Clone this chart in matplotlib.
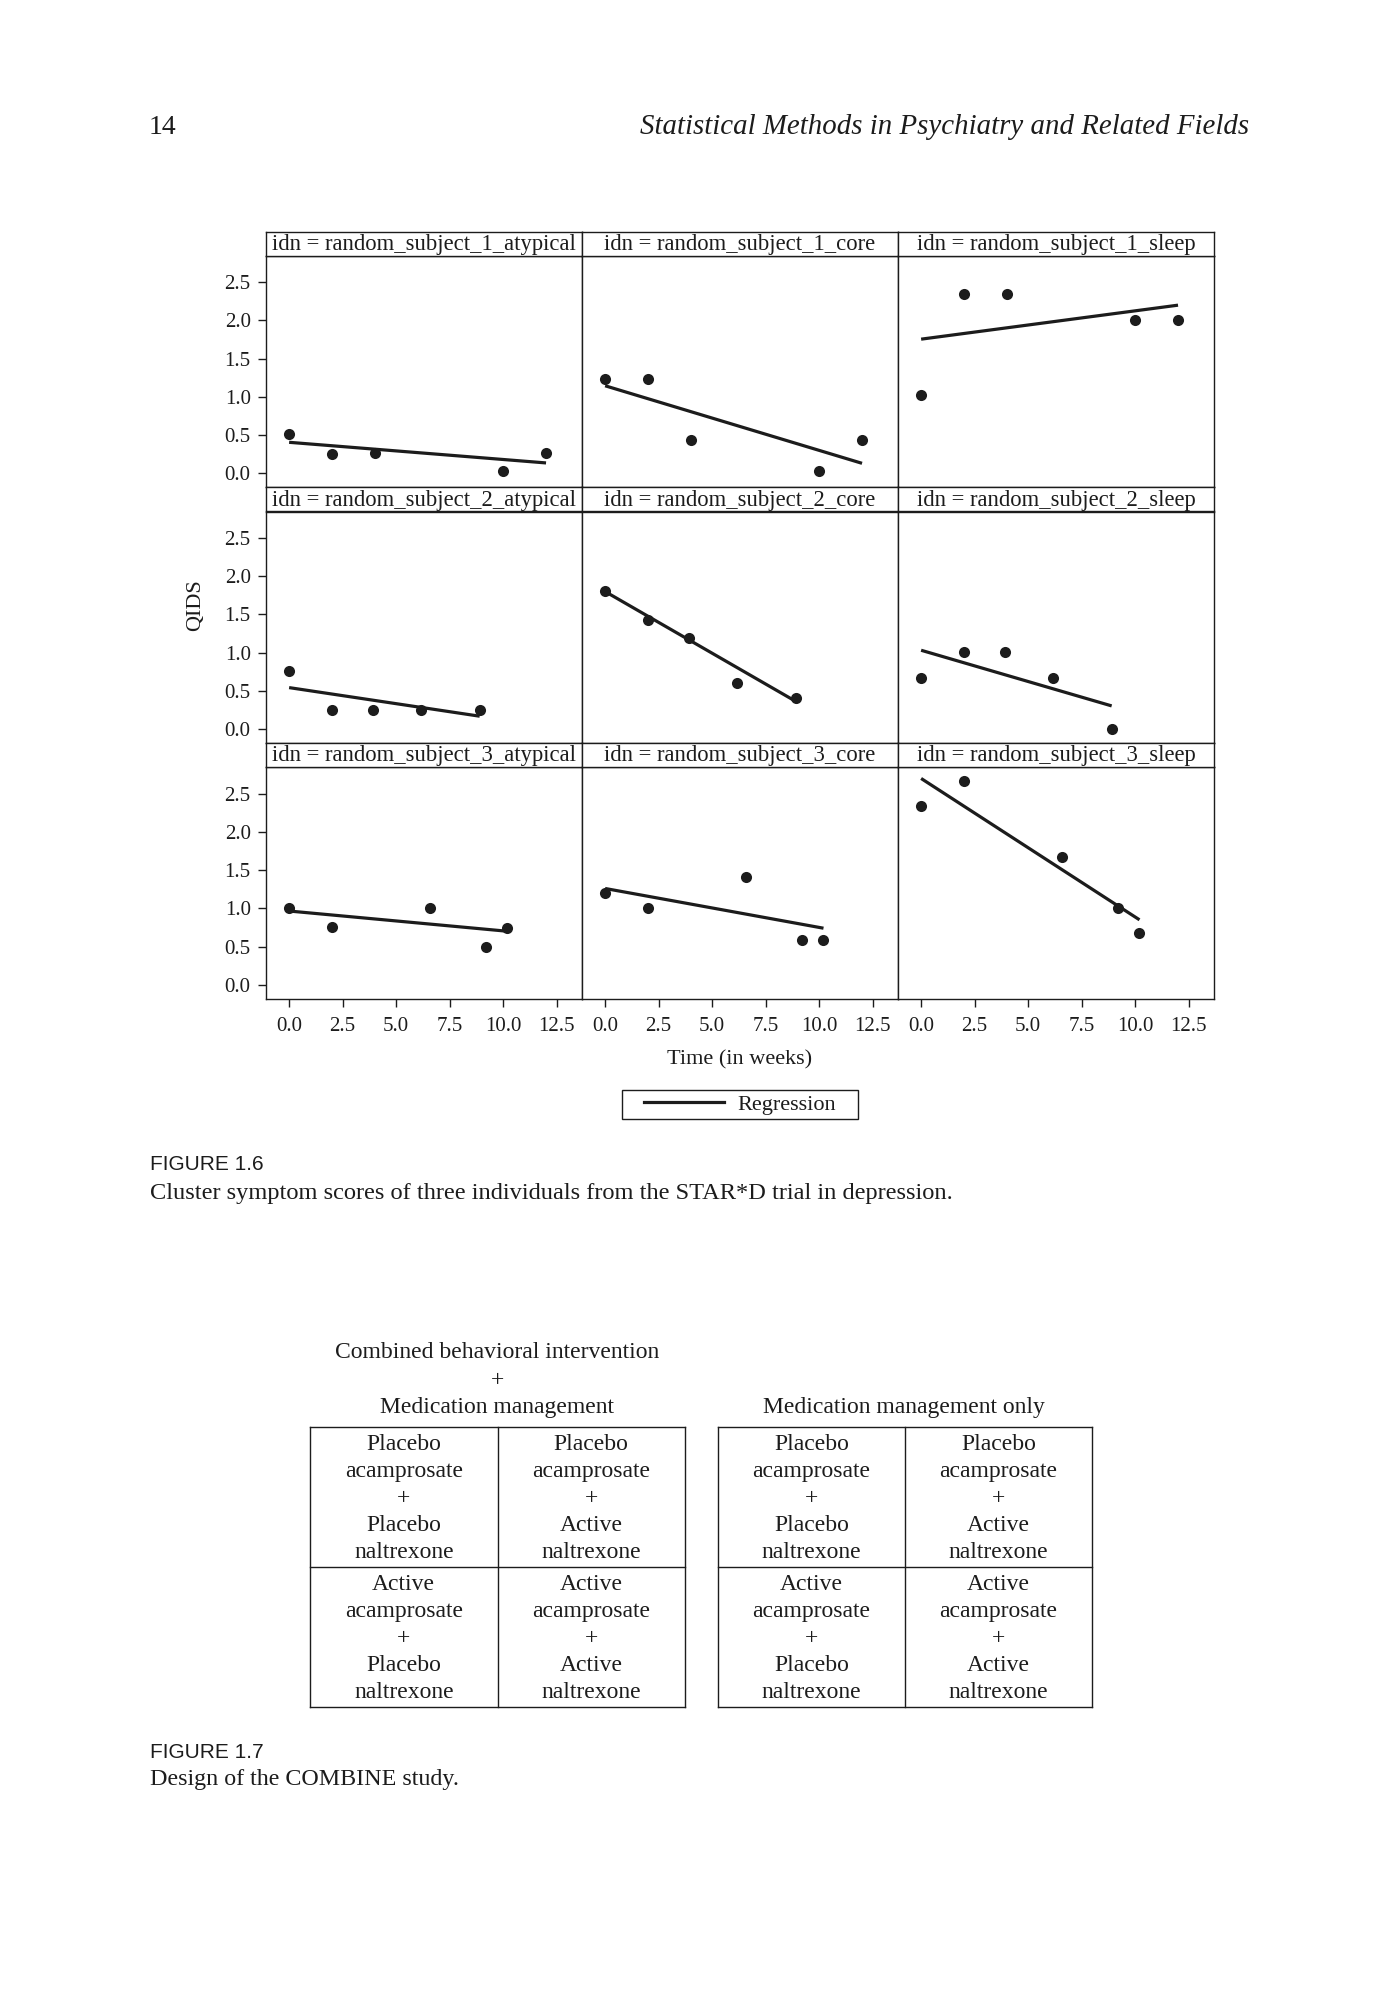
import matplotlib
matplotlib.use("Agg")
import matplotlib.pyplot as plt
from matplotlib.lines import Line2D
from matplotlib.patches import Rectangle

# ---------------- data ----------------
weeks_s1 = [0, 2, 4, 10, 12]
weeks_s2 = [0, 2, 3.9, 6.15, 8.9]
weeks_s3 = [0, 2, 6.6, 9.2, 10.2]

clusters = ["atypical", "core", "sleep"]
subjects = ["random_subject_1", "random_subject_2", "random_subject_3"]

s1_atypical = [0.51, 0.25, 0.26, 0.03, 0.27]
s1_core = [1.23, 1.23, 0.44, 0.03, 0.44]
s1_sleep = [1.02, 2.35, 2.35, 2.01, 2.01]
s2_atypical = [0.76, 0.25, 0.25, 0.25, 0.25]
s2_core = [1.81, 1.43, 1.19, 0.60, 0.41]
s2_sleep = [0.66, 1.01, 1.01, 0.66, 0.0]
s3_atypical = [1.0, 0.75, 1.0, 0.5, 0.74]
s3_core = [1.2, 1.0, 1.41, 0.59, 0.59]
s3_sleep = [2.34, 2.67, 1.67, 1.0, 0.68]

# regression line values at the first and last visit
reg_start_s1 = [0.405, 1.145, 1.755]
reg_end_s1 = [0.135, 0.13, 2.20]
reg_start_s2 = [0.54, 1.80, 1.03]
reg_end_s2 = [0.165, 0.36, 0.30]
reg_start_s3 = [0.965, 1.26, 2.70]
reg_end_s3 = [0.70, 0.74, 0.85]

y_ticks = [0.0, 0.5, 1.0, 1.5, 2.0, 2.5]
x_ticks = [0.0, 2.5, 5.0, 7.5, 10.0, 12.5]

table_left_title = ["Combined behavioral intervention", "+", "Medication management"]
table_right_title = "Medication management only"
cells = [["Placebo\nacamprosate\n+\nPlacebo\nnaltrexone",
          "Placebo\nacamprosate\n+\nActive\nnaltrexone"],
         ["Active\nacamprosate\n+\nPlacebo\nnaltrexone",
          "Active\nacamprosate\n+\nActive\nnaltrexone"]]

weeks = [weeks_s1, weeks_s2, weeks_s3]
values = [[s1_atypical, s1_core, s1_sleep],
          [s2_atypical, s2_core, s2_sleep],
          [s3_atypical, s3_core, s3_sleep]]
reg_start = [reg_start_s1, reg_start_s2, reg_start_s3]
reg_end = [reg_end_s1, reg_end_s2, reg_end_s3]

# ---------------- style ----------------
SERIF = ["Liberation Serif", "DejaVu Serif"]
SANS = ["Liberation Sans", "DejaVu Sans"]
INK = "#1c1c1c"
plt.rcParams["font.family"] = SERIF
plt.rcParams["text.color"] = INK

W, H = 1400, 2000
fig = plt.figure(figsize=(14, 20), dpi=100)
fig.patch.set_facecolor("white")

page = fig.add_axes([0, 0, 1, 1])
page.set_xlim(0, W)
page.set_ylim(H, 0)
page.axis("off")


def rect(x0, y0, x1, y1):
    return [x0 / W, 1 - y1 / H, (x1 - x0) / W, (y1 - y0) / H]


X = [266, 582, 898, 1214]
HT = [231.5, 487, 742.5]
PT = [255.5, 511.5, 767]
PB = [487, 742.5, 998.5]

for r in range(3):
    for c in range(3):
        ax = fig.add_axes(rect(X[c], PT[r], X[c + 1], PB[r]))
        ax.plot(weeks[r], values[r][c], "o", color=INK, markersize=8,
                markeredgewidth=0, zorder=3)
        ax.plot([weeks[r][0], weeks[r][-1]], [reg_start[r][c], reg_end[r][c]],
                "-", color=INK, linewidth=2.3, solid_capstyle="butt", zorder=2)
        ax.set_xlim(-1.08, 13.68)
        ax.set_ylim(-0.18, 2.85)
        for s in ax.spines.values():
            s.set_linewidth(1.0)
            s.set_color(INK)
        ax.tick_params(direction="out", length=6, width=1.0, color=INK,
                       labelsize=15, labelcolor=INK)
        ax.tick_params(axis="y", pad=5)
        ax.tick_params(axis="x", pad=7.5)
        if c == 0:
            ax.set_yticks(y_ticks)
            ax.set_yticklabels([f"{v:.1f}" for v in y_ticks])
        else:
            ax.set_yticks([])
        if r == 2:
            ax.set_xticks(x_ticks)
            ax.set_xticklabels([f"{v:.1f}" for v in x_ticks])
        else:
            ax.set_xticks([])
        # header strip
        hx = fig.add_axes(rect(X[c], HT[r], X[c + 1], PT[r]))
        hx.set_xticks([])
        hx.set_yticks([])
        for s in hx.spines.values():
            s.set_linewidth(1.0)
            s.set_color(INK)
        hx.text(0.5, 0.45, f"idn = {subjects[r]}_{clusters[c]}",
                ha="center", va="center", fontsize=16.3, transform=hx.transAxes)

# axis titles
page.text(740, 1060, "Time (in weeks)", ha="center", va="center", fontsize=16)
page.text(196, 605, "QIDS", ha="center", va="center", rotation=90, fontsize=16)

# legend
page.add_patch(Rectangle((622, 1090), 236, 29, fill=False, edgecolor=INK,
                         linewidth=1.0))
leg = fig.legend(handles=[Line2D([], [], color=INK, linewidth=2.3)],
                 labels=["Regression"], loc="center",
                 bbox_to_anchor=(740 / W, 1 - 1104.5 / H), frameon=False,
                 fontsize=16, handlelength=3.6,
                 borderpad=0.25, handletextpad=0.6, borderaxespad=0)

# page header
page.text(149, 127, "14", ha="left", va="center", fontsize=20)
page.text(1249, 127, "Statistical Methods in Psychiatry and Related Fields",
          ha="right", va="center", fontsize=20.8, style="italic")

# captions
page.text(150, 1164, "FIGURE 1.6", ha="left", va="center", fontsize=15,
          family=SANS)
page.text(150, 1193, "Cluster symptom scores of three individuals from the STAR*D trial in depression.",
          ha="left", va="center", fontsize=17.6)
page.text(150, 1752, "FIGURE 1.7", ha="left", va="center", fontsize=15,
          family=SANS)
page.text(150, 1779, "Design of the COMBINE study.", ha="left", va="center",
          fontsize=17.3)

# table titles
for i, t in enumerate(table_left_title):
    page.text(497, 1353 + 27.5 * i, t, ha="center", va="center", fontsize=17)
page.text(904, 1408, table_right_title, ha="center", va="center", fontsize=17)

# tables
tables_x = [(310, 497.5, 685), (718, 905, 1092)]
ty = (1427, 1567, 1707)
for (x0, xm, x1) in tables_x:
    for yy in ty:
        page.plot([x0, x1], [yy, yy], color=INK, linewidth=1.0)
    for xx in (x0, xm, x1):
        page.plot([xx, xx], [ty[0], ty[2]], color=INK, linewidth=1.0)
    for i in range(2):
        for j in range(2):
            cx = (x0, xm, x1)[j] / 2 + (x0, xm, x1)[j + 1] / 2
            cy = (ty[i] + ty[i + 1]) / 2 + 1.5
            page.text(cx, cy, cells[i][j], ha="center", va="center",
                      fontsize=17, linespacing=1.36)

fig.savefig("out.png", dpi=100, facecolor="white")
